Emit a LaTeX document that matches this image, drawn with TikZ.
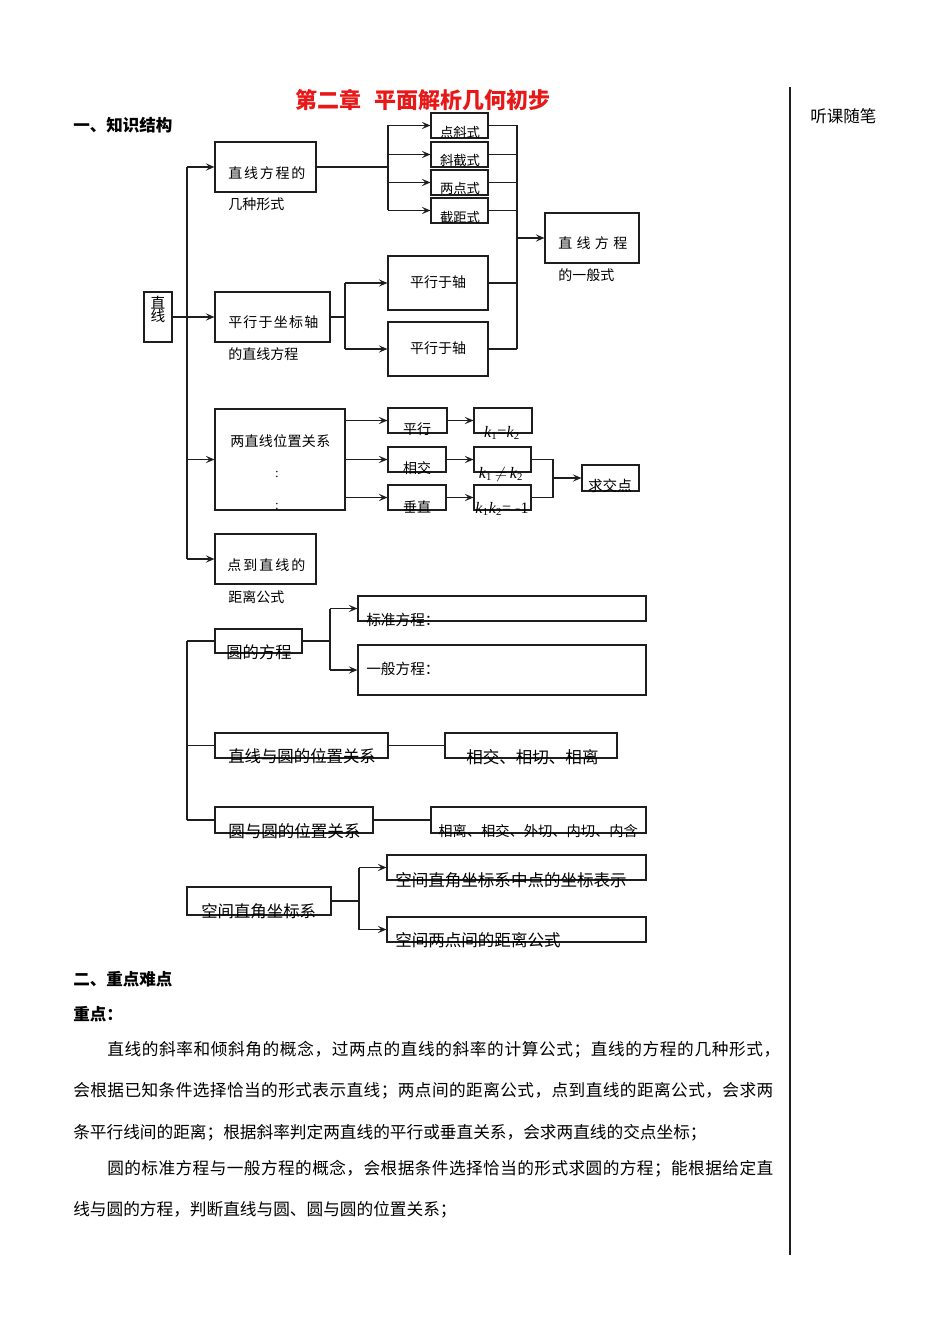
\documentclass[tikz,border=0pt]{standalone}
\usepackage{fontspec}
\setmainfont{Liberation Serif}
\newfontfamily\cjk{Noto Sans CJK SC}
\usetikzlibrary{arrows.meta,fit}
\definecolor{titlered}{RGB}{232,24,24}
\definecolor{linec}{RGB}{30,30,30}
\newcommand\fsz[1]{\fontsize{#1}{#1}\selectfont}
\def\spreadfirst#1{#1\spreadloop}
\def\spreadloop#1{\ifx\relax#1\else\hskip0pt plus 1fil\relax#1\expandafter\spreadloop\fi}
\newcommand\jline[2]{\hbox to #1{\spreadfirst#2\relax}}
\newcommand\kv[1]{\textit{k}\textsubscript{#1}}
\tikzset{
  bx/.style={draw=linec, line width=0.85pt, inner sep=0pt, fit={#1}},
  t/.style={inner sep=0pt, font=\cjk\fsz{#1}},
  tb/.style={inner sep=0pt, font=\cjk\bfseries\fsz{#1}},
  kt/.style={inner sep=0pt, font=\fsz{12}},
  ln/.style={draw=linec, line width=0.85pt},
  arr/.style={draw=linec, line width=0.85pt, -{Stealth[length=6.5pt,width=5.5pt,inset=2.8pt]}}
}
\begin{document}
\begin{tikzpicture}[x=0.75pt,y=-0.75pt]
\fill[white] (0,0) rectangle (950,1344);
\useasboundingbox (0,0) rectangle (950,1344);

% header
\node[tb=16.5, text=titlered] (title) at (423,100) {第二章\hspace{0.6em}平面解析几何初步};
\node[tb=12.4, anchor=west] (h1) at (73,125) {一、知识结构};
\draw[line width=1pt, linec] (790,87) -- (790,1255);
\node[t=12.4, anchor=west] (note) at (810,116) {听课随笔};

% ---------- straight line part ----------
\node[bx={(144,292) (172,342)}] (zx) {};
\node[t=11] (zxt1) at (158,303) {直};
\node[t=11] (zxt2) at (158,316) {线};

\node[bx={(215,142) (316,192)}] (fc) {};
\node[t=10.5, anchor=west] (fct) at (228,173) {\jline{57.75pt}{直线方程的}};
\node[t=10.5, anchor=west] (fcs) at (228,204) {几种形式};

\node[bx={(431,113) (488,138)}] (b1) {};
\node[bx={(431,142) (488,167)}] (b2) {};
\node[bx={(431,170) (488,195)}] (b3) {};
\node[bx={(431,198) (488,223)}] (b4) {};
\node[t=10] (b1t) at (460,132) {点斜式};
\node[t=10] (b2t) at (460,160) {斜截式};
\node[t=10] (b3t) at (460,188) {两点式};
\node[t=10] (b4t) at (460,217) {截距式};

\node[bx={(545,213) (639,263)}] (gen) {};
\node[t=10.5, anchor=west] (gent) at (558,243) {\jline{51.75pt}{直线方程}};
\node[t=10.5, anchor=west] (gens) at (558,275) {的一般式};

\node[bx={(215,292) (330,342)}] (pxz) {};
\node[t=10.5, anchor=west] (pxzt) at (228,322) {\jline{67.5pt}{平行于坐标轴}};
\node[t=10.5, anchor=west] (pxzs) at (228,354) {的直线方程};

\node[bx={(388,256) (488,310)}] (pz1) {};
\node[bx={(388,322) (488,376)}] (pz2) {};
\node[t=10.5] (pz1t) at (438,282) {平行于轴};
\node[t=10.5] (pz2t) at (438,348) {平行于轴};

\node[bx={(215,409) (345,510)}] (rel) {};
\node[t=10.5, anchor=west] (relt) at (230,441) {\jline{75pt}{两直线位置关系}};
\node[inner sep=0pt, font=\fsz{10}] (c1) at (277,474) {:};
\node[inner sep=0pt, font=\fsz{10}] (c2) at (277,506) {:};

\node[bx={(388,408) (447,433)}] (px) {};
\node[bx={(388,447) (446,472)}] (xj) {};
\node[bx={(388,485) (446,510)}] (cz) {};
\node[t=10.5] (pxt) at (417,429) {平行};
\node[t=10.5] (xjt) at (417,468) {相交};
\node[t=10.5] (czt) at (417,507) {垂直};

\node[bx={(474,408) (532,433)}] (k1) {};
\node[bx={(474,447) (531,472)}] (k2) {};
\node[bx={(474,485) (531,510)}] (k3) {};
\node[kt] (k1t) at (502,433) {\kv{1}=\kv{2}};
\node[kt] (k2t) at (501,474) {\kv{1}\,$\neq$\,\kv{2}};
\node[kt] (k3t) at (502,509) {\kv{1}\kv{2}= -1};

\node[bx={(582,465) (639,491)}] (jd) {};
\node[t=11] (jdt) at (610,486) {求交点};

\node[bx={(215,534) (316,584)}] (dist) {};
\node[t=10.5, anchor=west] (distt) at (227,565) {\jline{58.5pt}{点到直线的}};
\node[t=10.5, anchor=west] (dists) at (228,597) {距离公式};

% connectors, line part
\coordinate (T1) at (187,167);
\coordinate (T4) at (187,559);
\draw[ln] (T1) -- (T4);
\draw[arr] (T1) -- (fc.west);
\draw[arr] (zx.east) -- (pxz.west);
\draw[arr] (T1 |- rel.west) -- (rel.west);
\draw[arr] (T4) -- (dist.west);

\coordinate (fcB) at (388,167);
\draw[ln] (fc.east) -- (fcB);
\draw[ln] (fcB |- b1.west) -- (fcB |- b4.west);
\foreach \b in {b1,b2,b3,b4} \draw[arr] (fcB |- \b.west) -- (\b.west);

\coordinate (colR) at (517,238);
\foreach \b in {b1,b2,b3,b4,pz1,pz2} \draw[ln] (\b.east) -- (\b.east -| colR);
\draw[ln] (b1.east -| colR) -- (pz2.east -| colR);
\draw[arr] (colR) -- (gen.west);

\coordinate (pxzB) at (345,317);
\draw[ln] (pxz.east) -- (pxzB);
\draw[ln] (pxzB |- pz1.west) -- (pxzB |- pz2.west);
\draw[arr] (pxzB |- pz1.west) -- (pz1.west);
\draw[arr] (pxzB |- pz2.west) -- (pz2.west);

\draw[arr] (rel.east |- px.west) -- (px.west);
\draw[arr] (rel.east |- xj.west) -- (xj.west);
\draw[arr] (rel.east |- cz.west) -- (cz.west);
\draw[arr] (px.east) -- (k1.west);
\draw[arr] (xj.east) -- (k2.west);
\draw[arr] (cz.east) -- (k3.west);

\coordinate (kc) at (553,478);
\draw[ln] (k2.east) -- (k2.east -| kc) -- (k3.east -| kc) -- (k3.east);
\draw[arr] (kc) -- (jd.west);

% ---------- circle part ----------
\coordinate (C1) at (187,641);
\coordinate (C3) at (187,820);
\draw[ln] (C1) -- (C3);

\node[bx={(215,629) (302,653)}] (yfc) {};
\node[t=12.2] (yfct) at (259,652) {圆的方程};
\draw[ln] (C1) -- (yfc.west);

\node[bx={(358,596) (646,621)}] (bz) {};
\node[bx={(358,645) (646,695)}] (yb) {};
\node[t=11, anchor=west] (bzt) at (366,620) {标准方程：};
\node[t=11, anchor=west] (ybt) at (366,669) {一般方程：};
\coordinate (yB) at (330,641);
\draw[ln] (yfc.east) -- (yB);
\draw[ln] (yB |- bz.west) -- (yB |- yb.west);
\draw[arr] (yB |- bz.west) -- (bz.west);
\draw[arr] (yB |- yb.west) -- (yb.west);

\node[bx={(215,733) (388,758)}] (zxy) {};
\node[t=12.3, anchor=west] (zxyt) at (228,756) {直线与圆的位置关系};
\draw[ln] (C1 |- zxy.west) -- (zxy.west);
\node[bx={(445,733) (617,758)}] (zr) {};
\node[t=12.4, anchor=west] (zrt) at (466,757) {相交、相切、相离};
\draw[ln] (zxy.east) -- (zr.west);

\node[bx={(215,807) (373,833)}] (yy) {};
\node[t=12.4, anchor=west] (yyt) at (228,831) {圆与圆的位置关系};
\draw[ln] (C3) -- (yy.west);
\node[bx={(431,807) (646,833)}] (yr) {};
\node[t=10.7, anchor=west] (yrt) at (438,831) {相离、相交、外切、内切、内含};
\draw[ln] (yy.east) -- (yr.west);

% ---------- space part ----------
\node[bx={(187,887) (331,915)}] (kj) {};
\node[t=12.3, anchor=west] (kjt) at (201,911) {空间直角坐标系};
\node[bx={(387,855) (646,880)}] (s1) {};
\node[bx={(387,917) (646,942)}] (s2) {};
\node[t=12.4, anchor=west] (s1t) at (395,880) {空间直角坐标系中点的坐标表示};
\node[t=12.4, anchor=west] (s2t) at (395,940) {空间两点间的距离公式};
\coordinate (kB) at (359,901);
\draw[ln] (kj.east) -- (kB);
\draw[ln] (kB |- s1.west) -- (kB |- s2.west);
\draw[arr] (kB |- s1.west) -- (s1.west);
\draw[arr] (kB |- s2.west) -- (s2.west);

% ---------- text part ----------
\node[tb=12.4, anchor=west] (h2) at (73,979) {二、重点难点};
\node[tb=12.4, anchor=west] (h3) at (73,1014) {重点：};
\node[t=12.5, anchor=west] (p1) at (107,1050) {\jline{504.75pt}{直线的斜率和倾斜角的概念，过两点的直线的斜率的计算公式；直线的方程的几种形式，}};
\node[t=12.5, anchor=west] (p2) at (73,1091) {\jline{525pt}{会根据已知条件选择恰当的形式表示直线；两点间的距离公式，点到直线的距离公式，会求两}};
\node[t=12.5, anchor=west] (p3) at (73,1133) {条平行线间的距离；根据斜率判定两直线的平行或垂直关系，会求两直线的交点坐标；};
\node[t=12.5, anchor=west] (p4) at (107,1169) {\jline{499.5pt}{圆的标准方程与一般方程的概念，会根据条件选择恰当的形式求圆的方程；能根据给定直}};
\node[t=12.5, anchor=west] (p5) at (73,1210) {线与圆的方程，判断直线与圆、圆与圆的位置关系；};
\end{tikzpicture}
\end{document}
